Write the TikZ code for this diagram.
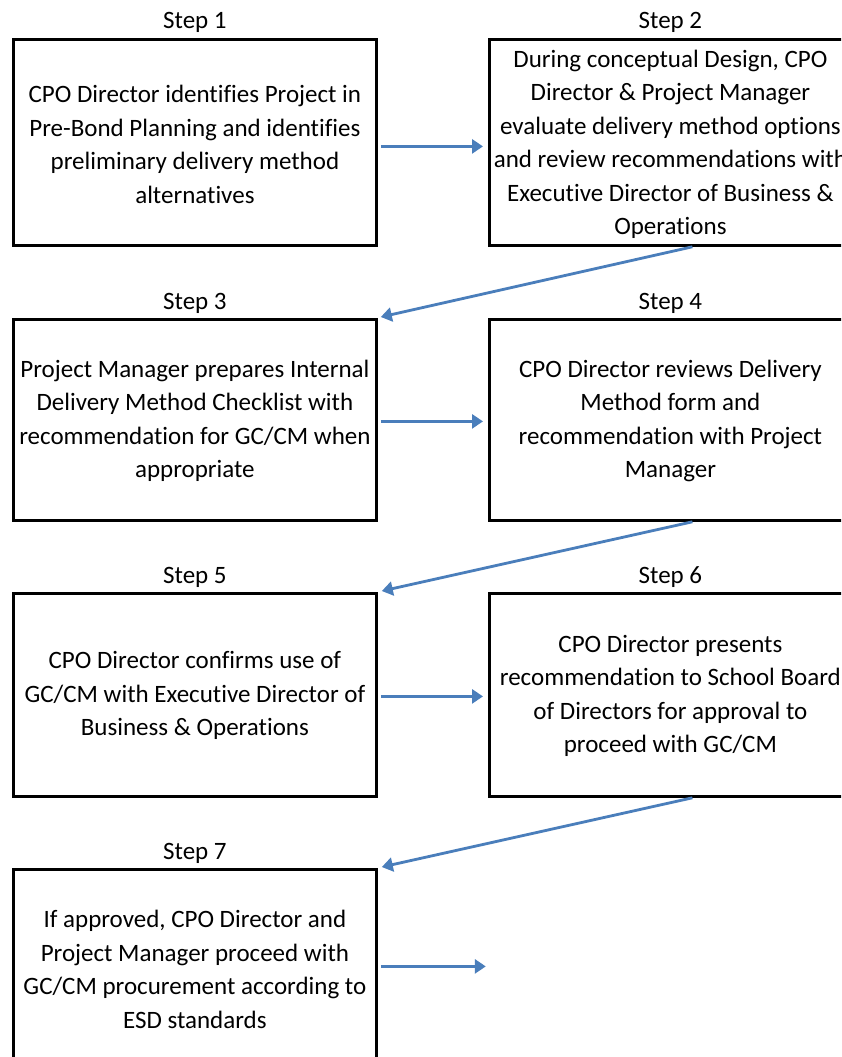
\documentclass[tikz,border=0pt]{standalone}
\usepackage{fontspec}
\setmainfont{Carlito}[RawFeature=-liga]
\usetikzlibrary{arrows.meta,calc}
\definecolor{arrowblue}{RGB}{74,126,187}
\begin{document}
\begin{tikzpicture}[x=1pt,y=-1pt,
  stepbox/.style={draw=black,line width=2.8pt,minimum width=363pt,minimum height=206pt,inner sep=0pt,anchor=north west},
  txt/.style={align=center,font=\fontsize{25}{33.5}\selectfont,inner sep=0pt},
  lbl/.style={font=\fontsize{25}{28}\selectfont,inner sep=0pt,anchor=base},
  flow/.style={draw=arrowblue,line width=2.8pt,-{Triangle[length=11pt,width=14pt]}}]
\useasboundingbox (0,0) rectangle (841,1057);
\clip (0,0) rectangle (841,1057);
\fill[white] (0,0) rectangle (841,1057);
% boxes
\node[stepbox] (b1) at (12,38) {};
\node[stepbox,minimum width=362pt] (b2) at (488,38) {};
\node[stepbox,minimum height=201pt] (b3) at (12,318) {};
\node[stepbox,minimum width=362pt,minimum height=201pt] (b4) at (488,318) {};
\node[stepbox,minimum height=203pt] (b5) at (12,592) {};
\node[stepbox,minimum width=362pt,minimum height=203pt] (b6) at (488,592) {};
\node[stepbox,minimum height=200pt] (b7) at (12,868) {};
% labels
\node[lbl] (l1) at ($(b1.north)+(0,-9)$) {Step 1};
\node[lbl] (l2) at ($(b2.north)+(0,-9)$) {Step 2};
\node[lbl] (l3) at ($(b3.north)+(0,-9)$) {Step 3};
\node[lbl] (l4) at ($(b4.north)+(0,-9)$) {Step 4};
\node[lbl] (l5) at ($(b5.north)+(0,-9)$) {Step 5};
\node[lbl] (l6) at ($(b6.north)+(0,-9)$) {Step 6};
\node[lbl] (l7) at ($(b7.north)+(0,-9)$) {Step 7};
% texts
\node[txt] (t1) at ($(b1.center)+(0,2)$) {CPO Director identifies Project in\\Pre-Bond Planning and identifies\\preliminary delivery method\\alternatives};
\node[txt] (t2) at ($(b2.center)+(0,2)$) {During conceptual Design, CPO\\Director \& Project Manager\\evaluate delivery method options\\and review recommendations with\\Executive Director of Business \&\\Operations};
\node[txt] (t3) at ($(b3.center)+(0,1)$) {Project Manager prepares Internal\\Delivery Method Checklist with\\recommendation for GC/CM when\\appropriate};
\node[txt] (t4) at ($(b4.center)+(0,1)$) {CPO Director reviews Delivery\\Method form and\\recommendation with Project\\Manager};
\node[txt] (t5) at ($(b5.center)+(0,1)$) {CPO Director confirms use of\\GC/CM with Executive Director of\\Business \& Operations};
\node[txt] (t6) at ($(b6.center)+(0,1)$) {CPO Director presents\\recommendation to School Board\\of Directors for approval to\\proceed with GC/CM};
\node[txt] (t7) at (b7.center) {If approved, CPO Director and\\Project Manager proceed with\\GC/CM procurement according to\\ESD standards};
% free end of last arrow
\coordinate (end7) at ($(b7.east)+(108,-3)$);
% arrows
\draw[flow] ($(b1.east)+(3,4)$) -- ($(b2.west)+(-5,4)$);
\draw[flow] ($(b3.east)+(3,1.5)$) -- ($(b4.west)+(-5,1.5)$);
\draw[flow] ($(b5.east)+(3,1.5)$) -- ($(b6.west)+(-5,1.5)$);
\draw[flow] ($(b7.east)+(3,-3)$) -- (end7);
\draw[flow] ($(b2.south)+(22,0)$) -- ($(b3.north east)+(3,-1)$);
\draw[flow] ($(b4.south)+(22,0)$) -- ($(b5.north east)+(4,-1)$);
\draw[flow] ($(b6.south)+(22,0)$) -- ($(b7.north east)+(4,-1)$);
\end{tikzpicture}
\end{document}
